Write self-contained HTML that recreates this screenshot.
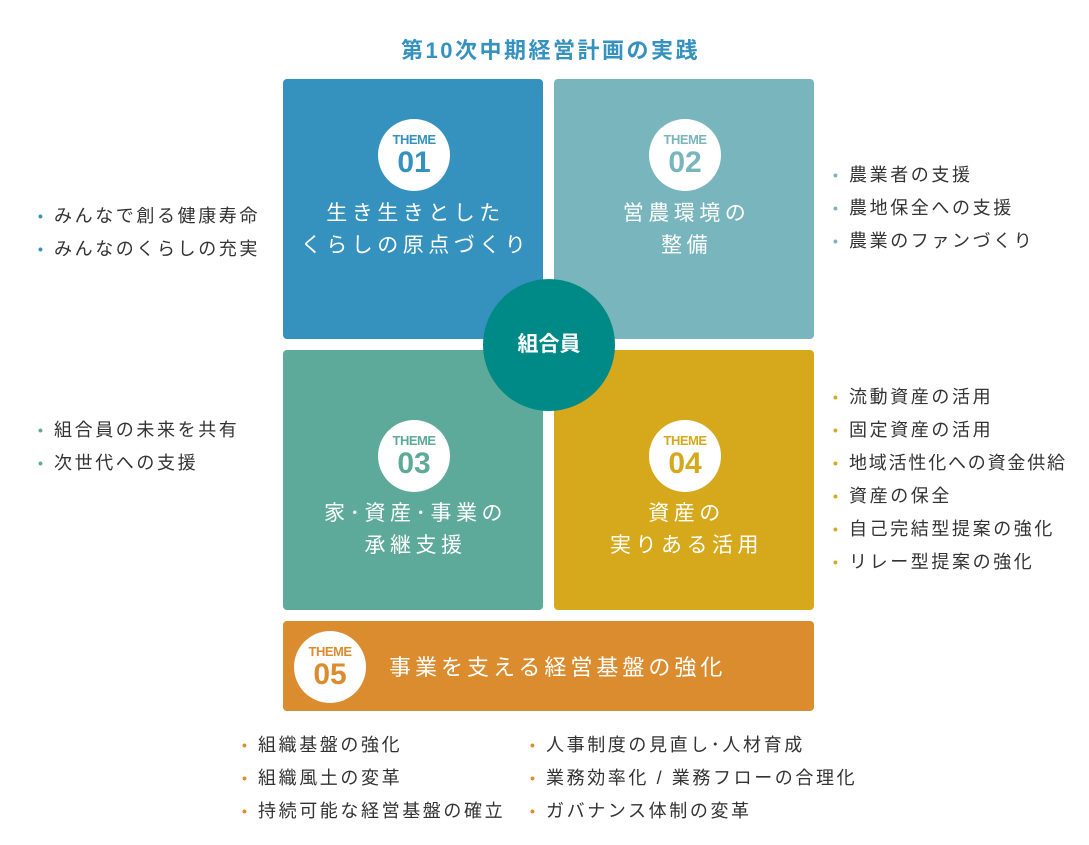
<!DOCTYPE html>
<html><head><meta charset="utf-8"><style>
*{margin:0;padding:0;box-sizing:border-box}
body{width:1089px;height:845px;background:#fff;position:relative;overflow:hidden;font-family:"Liberation Sans","Noto Sans CJK JP",sans-serif;color:#333}
.a{position:absolute}
.box{position:absolute;border-radius:4px}
.tc{position:absolute;width:72px;height:72px;border-radius:50%;background:#fff;text-align:center}
.tc .t{font-size:13px;font-weight:bold;margin-top:14px;line-height:14px;letter-spacing:-0.5px}
.tc .n{font-size:30px;font-weight:bold;line-height:31px}
.ttl{position:absolute;color:#fff;font-size:21px;letter-spacing:4.5px;line-height:32px;text-align:center}
.li{position:absolute;font-size:18px;letter-spacing:2.6px;line-height:20px;white-space:nowrap}
.li b{display:inline-block;width:16px;font-size:14px;vertical-align:1px}
</style></head><body>
<div class="a" style="left:0;width:1089px;top:33px;text-align:center;font-size:22px;font-weight:bold;color:#3592bf;letter-spacing:2.5px;margin-left:6px">第10次中期経営計画の実践</div>

<div class="box" style="left:283px;top:79px;width:260px;height:260px;background:#3592bf"></div>
<div class="box" style="left:554px;top:79px;width:260px;height:260px;background:#79b5bd"></div>
<div class="box" style="left:283px;top:350px;width:260px;height:260px;background:#5eaa9a"></div>
<div class="box" style="left:554px;top:350px;width:260px;height:260px;background:#d6a91d"></div>
<div class="box" style="left:283px;top:621px;width:531px;height:90px;background:#db8c2f"></div>

<div class="tc" style="left:378px;top:119px;color:#3592bf"><div class="t">THEME</div><div class="n">01</div></div>
<div class="tc" style="left:649px;top:119px;color:#79b5bd"><div class="t">THEME</div><div class="n">02</div></div>
<div class="tc" style="left:378px;top:420px;color:#5eaa9a"><div class="t">THEME</div><div class="n">03</div></div>
<div class="tc" style="left:649px;top:420px;color:#d6a91d"><div class="t">THEME</div><div class="n">04</div></div>
<div class="tc" style="left:294px;top:631px;color:#db8c2f"><div class="t">THEME</div><div class="n">05</div></div>

<div class="ttl" style="left:283px;width:265px;top:198px">生き生きとした<br>くらしの原点づくり</div>
<div class="ttl" style="left:554px;width:265px;top:198px">営農環境の<br>整備</div>
<div class="ttl" style="left:283px;width:265px;top:498px">家･資産･事業の<br>承継支援</div>
<div class="ttl" style="left:554px;width:265px;top:498px">資産の<br>実りある活用</div>
<div class="ttl" style="left:389px;top:652px;text-align:left;font-size:22px;letter-spacing:4px">事業を支える経営基盤の強化</div>

<div class="a" style="left:483px;top:279px;width:132px;height:132px;border-radius:50%;background:#008a87;color:#fff;font-size:21px;font-weight:bold;text-align:center;line-height:132px">組合員</div>

<div class="li" style="left:38px;top:206px"><b style="color:#3592bf">•</b>みんなで創る健康寿命</div>
<div class="li" style="left:38px;top:239px"><b style="color:#3592bf">•</b>みんなのくらしの充実</div>
<div class="li" style="left:833px;top:165px"><b style="color:#79b5bd">•</b>農業者の支援</div>
<div class="li" style="left:833px;top:198px"><b style="color:#79b5bd">•</b>農地保全への支援</div>
<div class="li" style="left:833px;top:231px"><b style="color:#79b5bd">•</b>農業のファンづくり</div>
<div class="li" style="left:38px;top:420px"><b style="color:#5eaa9a">•</b>組合員の未来を共有</div>
<div class="li" style="left:38px;top:453px"><b style="color:#5eaa9a">•</b>次世代への支援</div>
<div class="li" style="left:833px;top:387px"><b style="color:#d6a91d">•</b>流動資産の活用</div>
<div class="li" style="left:833px;top:420px"><b style="color:#d6a91d">•</b>固定資産の活用</div>
<div class="li" style="left:833px;top:453px;letter-spacing:1.8px"><b style="color:#d6a91d">•</b>地域活性化への資金供給</div>
<div class="li" style="left:833px;top:486px"><b style="color:#d6a91d">•</b>資産の保全</div>
<div class="li" style="left:833px;top:519px"><b style="color:#d6a91d">•</b>自己完結型提案の強化</div>
<div class="li" style="left:833px;top:552px"><b style="color:#d6a91d">•</b>リレー型提案の強化</div>
<div class="li" style="left:242px;top:735px"><b style="color:#db8c2f">•</b>組織基盤の強化</div>
<div class="li" style="left:242px;top:768px"><b style="color:#db8c2f">•</b>組織風土の変革</div>
<div class="li" style="left:242px;top:801px"><b style="color:#db8c2f">•</b>持続可能な経営基盤の確立</div>
<div class="li" style="left:530px;top:735px"><b style="color:#db8c2f">•</b>人事制度の見直し･人材育成</div>
<div class="li" style="left:530px;top:768px"><b style="color:#db8c2f">•</b>業務効率化 / 業務フローの合理化</div>
<div class="li" style="left:530px;top:801px"><b style="color:#db8c2f">•</b>ガバナンス体制の変革</div>
</body></html>
